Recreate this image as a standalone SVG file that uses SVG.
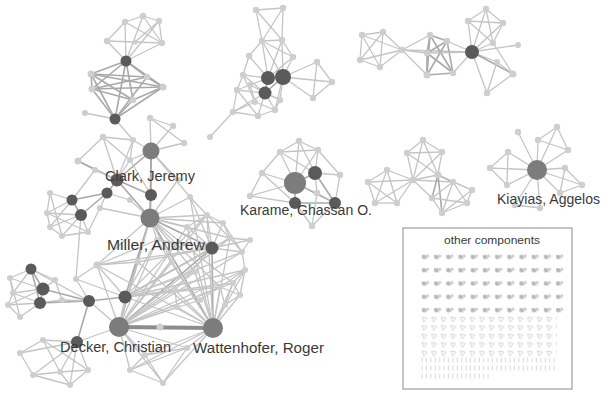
<svg xmlns="http://www.w3.org/2000/svg" width="601" height="393" viewBox="0 0 601 393">
<style>
.e{stroke:#c4c4c4;stroke-width:1.3;fill:none}
.k{stroke:#a9a9a9;stroke-width:1.6;fill:none}
.t{stroke:#8c8c8c;stroke-width:4;fill:none}
.l{fill:#cecece}
.d{fill:#5a5a5a}
.m{fill:#7c7c7c}
.lab{font-family:"Liberation Sans",Arial,sans-serif;font-size:14px;fill:#3a3a3a}
</style>
<defs>
<pattern id="p1" patternUnits="userSpaceOnUse" x="419" y="251" width="12.2" height="13.3">
<line x1="3" y1="4" x2="8" y2="8" stroke="#c9c9c9" stroke-width="1"/>
<circle cx="5" cy="6" r="2.2" fill="#b8b8b8"/><circle cx="8.5" cy="5" r="1.6" fill="#cdcdcd"/>
</pattern>
<pattern id="p2" patternUnits="userSpaceOnUse" x="420" y="315" width="9.6" height="8.5">
<polyline points="2,2 7,3 4,7 2,2" stroke="#d0d0d0" stroke-width="0.9" fill="none"/>
</pattern>
<pattern id="p3" patternUnits="userSpaceOnUse" x="420" y="356" width="4.4" height="8">
<line x1="2" y1="1.5" x2="2" y2="6.5" stroke="#d4d4d4" stroke-width="0.9"/>
</pattern>
</defs>
<rect width="601" height="393" fill="#ffffff"/>
<g id="connectors">
<!-- cluster A -->
<line class="e" x1="125" y1="22" x2="143" y2="16"/><line class="e" x1="143" y1="16" x2="159" y2="21"/><line class="e" x1="159" y1="21" x2="162" y2="43"/><line class="e" x1="125" y1="22" x2="107" y2="41"/><line class="e" x1="107" y1="41" x2="162" y2="43"/><line class="e" x1="143" y1="16" x2="162" y2="43"/><line class="e" x1="159" y1="21" x2="135" y2="42"/><line class="e" x1="125" y1="22" x2="162" y2="43"/>
<line class="e" x1="125" y1="22" x2="126" y2="61"/><line class="e" x1="143" y1="16" x2="126" y2="61"/><line class="e" x1="107" y1="41" x2="126" y2="61"/><line class="e" x1="162" y1="43" x2="126" y2="61"/><line class="e" x1="159" y1="21" x2="126" y2="61"/>
<line class="k" x1="126" y1="61" x2="91" y2="74"/><line class="k" x1="126" y1="61" x2="92" y2="89"/><line class="k" x1="126" y1="61" x2="147" y2="77"/><line class="k" x1="126" y1="61" x2="163" y2="87"/><line class="k" x1="126" y1="61" x2="133" y2="100"/><line class="k" x1="126" y1="61" x2="115" y2="119"/>
<line class="k" x1="115" y1="119" x2="91" y2="74"/><line class="k" x1="115" y1="119" x2="92" y2="89"/><line class="k" x1="115" y1="119" x2="147" y2="77"/><line class="k" x1="115" y1="119" x2="163" y2="87"/><line class="k" x1="115" y1="119" x2="133" y2="100"/>
<line class="k" x1="91" y1="74" x2="92" y2="89"/><line class="k" x1="91" y1="74" x2="147" y2="77"/><line class="k" x1="91" y1="74" x2="163" y2="87"/><line class="k" x1="92" y1="89" x2="163" y2="87"/><line class="k" x1="92" y1="89" x2="147" y2="77"/><line class="k" x1="147" y1="77" x2="163" y2="87"/><line class="k" x1="91" y1="74" x2="133" y2="100"/><line class="k" x1="133" y1="100" x2="163" y2="87"/><line class="k" x1="92" y1="89" x2="133" y2="100"/>
<line class="e" x1="115" y1="119" x2="85" y2="113"/><line class="e" x1="115" y1="119" x2="133" y2="140"/>
<!-- cluster B -->
<line class="e" x1="151" y1="151" x2="150" y2="118"/><line class="e" x1="151" y1="151" x2="173" y2="126"/><line class="e" x1="151" y1="151" x2="184" y2="143"/><line class="e" x1="150" y1="118" x2="173" y2="126"/><line class="e" x1="150" y1="118" x2="184" y2="143"/><line class="e" x1="151" y1="151" x2="133" y2="140"/><line class="e" x1="151" y1="151" x2="130" y2="160"/><line class="e" x1="103" y1="137" x2="133" y2="140"/><line class="e" x1="103" y1="137" x2="130" y2="160"/><line class="e" x1="133" y1="140" x2="130" y2="160"/><line class="e" x1="103" y1="137" x2="117" y2="180"/><line class="e" x1="133" y1="140" x2="117" y2="180"/>
<line class="k" x1="151" y1="151" x2="117" y2="180"/><line class="k" x1="151" y1="151" x2="151" y2="195"/><line class="k" x1="151" y1="151" x2="150" y2="218"/><line class="e" x1="151" y1="151" x2="178" y2="180"/><line class="e" x1="178" y1="180" x2="150" y2="218"/><line class="e" x1="151" y1="151" x2="190" y2="197"/>
<line class="e" x1="78" y1="161" x2="95" y2="170"/><line class="k" x1="78" y1="161" x2="117" y2="180"/><line class="e" x1="95" y1="170" x2="117" y2="180"/><line class="e" x1="78" y1="161" x2="103" y2="137"/><line class="e" x1="130" y1="160" x2="117" y2="180"/>
<line class="k" x1="117" y1="180" x2="107" y2="193"/><line class="k" x1="117" y1="180" x2="151" y2="195"/><line class="k" x1="117" y1="180" x2="150" y2="218"/><line class="k" x1="107" y1="193" x2="72" y2="200"/><line class="k" x1="107" y1="193" x2="81" y2="215"/><line class="k" x1="72" y1="200" x2="81" y2="215"/><line class="e" x1="107" y1="193" x2="130" y2="200"/><line class="e" x1="130" y1="200" x2="150" y2="218"/><line class="e" x1="107" y1="193" x2="100" y2="208"/><line class="e" x1="100" y1="208" x2="150" y2="218"/><line class="k" x1="151" y1="195" x2="150" y2="218"/><line class="e" x1="130" y1="160" x2="151" y2="195"/><line class="e" x1="95" y1="170" x2="72" y2="200"/>
<!-- small left -->
<line class="e" x1="72" y1="200" x2="50" y2="193"/><line class="e" x1="72" y1="200" x2="47" y2="213"/><line class="e" x1="72" y1="200" x2="50" y2="227"/><line class="e" x1="81" y1="215" x2="50" y2="227"/><line class="e" x1="81" y1="215" x2="62" y2="236"/><line class="e" x1="81" y1="215" x2="88" y2="232"/><line class="e" x1="81" y1="215" x2="47" y2="213"/><line class="e" x1="50" y1="193" x2="47" y2="213"/><line class="e" x1="47" y1="213" x2="50" y2="227"/><line class="e" x1="50" y1="227" x2="62" y2="236"/><line class="e" x1="62" y1="236" x2="88" y2="232"/><line class="e" x1="50" y1="193" x2="62" y2="236"/><line class="e" x1="47" y1="213" x2="88" y2="232"/><line class="e" x1="81" y1="215" x2="76" y2="279"/><line class="e" x1="100" y1="208" x2="88" y2="232"/>
<!-- cluster D (lower left) -->
<line class="k" x1="31" y1="269" x2="43" y2="289"/><line class="k" x1="31" y1="269" x2="40" y2="303"/><line class="k" x1="43" y1="289" x2="40" y2="303"/><line class="e" x1="31" y1="269" x2="10" y2="278"/><line class="e" x1="31" y1="269" x2="13" y2="293"/><line class="e" x1="43" y1="289" x2="10" y2="278"/><line class="e" x1="43" y1="289" x2="13" y2="293"/><line class="e" x1="43" y1="289" x2="8" y2="305"/><line class="e" x1="40" y1="303" x2="8" y2="305"/><line class="e" x1="40" y1="303" x2="20" y2="317"/><line class="e" x1="40" y1="303" x2="13" y2="293"/><line class="e" x1="10" y1="278" x2="13" y2="293"/><line class="e" x1="13" y1="293" x2="8" y2="305"/><line class="e" x1="8" y1="305" x2="20" y2="317"/><line class="e" x1="10" y1="278" x2="20" y2="317"/><line class="e" x1="31" y1="269" x2="55" y2="280"/><line class="e" x1="55" y1="280" x2="43" y2="289"/><line class="e" x1="55" y1="280" x2="62" y2="300"/><line class="e" x1="62" y1="300" x2="40" y2="303"/><line class="k" x1="43" y1="289" x2="89" y2="301"/><line class="k" x1="40" y1="303" x2="89" y2="301"/><line class="e" x1="31" y1="269" x2="89" y2="301"/><line class="e" x1="76" y1="279" x2="89" y2="301"/><line class="e" x1="76" y1="279" x2="125" y2="297"/><line class="k" x1="89" y1="301" x2="125" y2="297"/><line class="k" x1="89" y1="301" x2="77" y2="342"/><line class="e" x1="89" y1="301" x2="119" y2="327"/><line class="e" x1="62" y1="300" x2="89" y2="301"/>
<!-- lower-left P -->
<line class="e" x1="77" y1="342" x2="20" y2="353"/><line class="e" x1="77" y1="342" x2="43" y2="340"/><line class="e" x1="77" y1="342" x2="33" y2="375"/><line class="e" x1="77" y1="342" x2="70" y2="385"/><line class="e" x1="77" y1="342" x2="88" y2="370"/><line class="e" x1="77" y1="342" x2="60" y2="372"/><line class="e" x1="20" y1="353" x2="43" y2="340"/><line class="e" x1="20" y1="353" x2="33" y2="375"/><line class="e" x1="43" y1="340" x2="60" y2="372"/><line class="e" x1="33" y1="375" x2="70" y2="385"/><line class="e" x1="60" y1="372" x2="70" y2="385"/><line class="e" x1="60" y1="372" x2="88" y2="370"/><line class="e" x1="70" y1="385" x2="88" y2="370"/><line class="e" x1="33" y1="375" x2="60" y2="372"/><line class="e" x1="43" y1="340" x2="88" y2="370"/><line class="e" x1="77" y1="342" x2="119" y2="327"/>
<!-- M hairball -->
<line class="k" x1="150" y1="218" x2="212" y2="248"/><line class="k" x1="150" y1="218" x2="125" y2="297"/><line class="k" x1="150" y1="218" x2="119" y2="327"/><line class="k" x1="150" y1="218" x2="213" y2="328"/><line class="e" x1="150" y1="218" x2="207" y2="215"/><line class="e" x1="150" y1="218" x2="187" y2="227"/><line class="e" x1="150" y1="218" x2="157" y2="240"/><line class="e" x1="150" y1="218" x2="172" y2="262"/><line class="e" x1="150" y1="218" x2="195" y2="272"/><line class="e" x1="150" y1="218" x2="230" y2="238"/><line class="e" x1="150" y1="218" x2="233" y2="283"/><line class="e" x1="150" y1="218" x2="220" y2="287"/><line class="e" x1="150" y1="218" x2="97" y2="265"/><line class="e" x1="150" y1="218" x2="138" y2="262"/><line class="e" x1="150" y1="218" x2="190" y2="197"/><line class="e" x1="150" y1="218" x2="223" y2="223"/>
<line class="k" x1="212" y1="248" x2="119" y2="327"/><line class="k" x1="212" y1="248" x2="213" y2="328"/><line class="k" x1="212" y1="248" x2="125" y2="297"/><line class="e" x1="212" y1="248" x2="207" y2="215"/><line class="e" x1="212" y1="248" x2="223" y2="223"/><line class="e" x1="212" y1="248" x2="230" y2="238"/><line class="e" x1="212" y1="248" x2="250" y2="240"/><line class="e" x1="212" y1="248" x2="242" y2="252"/><line class="e" x1="212" y1="248" x2="97" y2="265"/><line class="e" x1="212" y1="248" x2="138" y2="262"/><line class="e" x1="212" y1="248" x2="175" y2="290"/><line class="e" x1="212" y1="248" x2="187" y2="227"/><line class="e" x1="212" y1="248" x2="157" y2="240"/><line class="e" x1="212" y1="248" x2="190" y2="197"/>
<line class="e" x1="119" y1="327" x2="125" y2="297"/><line class="e" x1="119" y1="327" x2="97" y2="265"/><line class="e" x1="119" y1="327" x2="207" y2="215"/><line class="e" x1="119" y1="327" x2="230" y2="238"/><line class="e" x1="119" y1="327" x2="242" y2="252"/><line class="e" x1="119" y1="327" x2="245" y2="270"/><line class="e" x1="119" y1="327" x2="233" y2="283"/><line class="e" x1="119" y1="327" x2="220" y2="287"/><line class="e" x1="119" y1="327" x2="187" y2="227"/><line class="e" x1="119" y1="327" x2="157" y2="240"/><line class="e" x1="119" y1="327" x2="172" y2="262"/><line class="e" x1="119" y1="327" x2="195" y2="272"/><line class="e" x1="119" y1="327" x2="138" y2="262"/><line class="e" x1="119" y1="327" x2="175" y2="290"/><line class="e" x1="119" y1="327" x2="200" y2="300"/><line class="e" x1="119" y1="327" x2="163" y2="383"/><line class="e" x1="119" y1="327" x2="130" y2="370"/><line class="e" x1="119" y1="327" x2="177" y2="307"/><line class="e" x1="119" y1="327" x2="145" y2="355"/><line class="e" x1="119" y1="327" x2="187" y2="348"/>
<line class="e" x1="213" y1="328" x2="125" y2="297"/><line class="e" x1="213" y1="328" x2="97" y2="265"/><line class="e" x1="213" y1="328" x2="207" y2="215"/><line class="e" x1="213" y1="328" x2="230" y2="238"/><line class="e" x1="213" y1="328" x2="245" y2="270"/><line class="e" x1="213" y1="328" x2="233" y2="283"/><line class="e" x1="213" y1="328" x2="240" y2="295"/><line class="e" x1="213" y1="328" x2="220" y2="287"/><line class="e" x1="213" y1="328" x2="225" y2="305"/><line class="e" x1="213" y1="328" x2="187" y2="227"/><line class="e" x1="213" y1="328" x2="157" y2="240"/><line class="e" x1="213" y1="328" x2="172" y2="262"/><line class="e" x1="213" y1="328" x2="195" y2="272"/><line class="e" x1="213" y1="328" x2="138" y2="262"/><line class="e" x1="213" y1="328" x2="175" y2="290"/><line class="e" x1="213" y1="328" x2="163" y2="383"/><line class="e" x1="213" y1="328" x2="130" y2="370"/><line class="e" x1="213" y1="328" x2="187" y2="348"/><line class="e" x1="213" y1="328" x2="177" y2="307"/><line class="e" x1="213" y1="328" x2="145" y2="355"/><line class="e" x1="213" y1="328" x2="190" y2="197"/>
<line class="e" x1="125" y1="297" x2="97" y2="265"/><line class="e" x1="125" y1="297" x2="230" y2="238"/><line class="e" x1="125" y1="297" x2="242" y2="252"/><line class="e" x1="125" y1="297" x2="245" y2="270"/><line class="e" x1="125" y1="297" x2="233" y2="283"/><line class="e" x1="125" y1="297" x2="220" y2="287"/><line class="e" x1="125" y1="297" x2="157" y2="240"/><line class="e" x1="125" y1="297" x2="195" y2="272"/><line class="e" x1="125" y1="297" x2="175" y2="290"/><line class="e" x1="125" y1="297" x2="207" y2="215"/>
<line class="e" x1="207" y1="215" x2="223" y2="223"/><line class="e" x1="223" y1="223" x2="230" y2="238"/><line class="e" x1="207" y1="215" x2="230" y2="238"/><line class="e" x1="230" y1="238" x2="250" y2="240"/><line class="e" x1="250" y1="240" x2="242" y2="252"/><line class="e" x1="223" y1="223" x2="242" y2="252"/><line class="e" x1="230" y1="238" x2="242" y2="252"/><line class="e" x1="242" y1="252" x2="245" y2="270"/><line class="e" x1="245" y1="270" x2="233" y2="283"/><line class="e" x1="233" y1="283" x2="240" y2="295"/><line class="e" x1="240" y1="295" x2="220" y2="287"/><line class="e" x1="220" y1="287" x2="225" y2="305"/><line class="e" x1="245" y1="270" x2="240" y2="295"/><line class="e" x1="233" y1="283" x2="225" y2="305"/><line class="e" x1="240" y1="295" x2="225" y2="305"/><line class="e" x1="220" y1="287" x2="245" y2="270"/><line class="e" x1="97" y1="265" x2="157" y2="240"/><line class="e" x1="97" y1="265" x2="138" y2="262"/><line class="e" x1="177" y1="307" x2="175" y2="290"/><line class="e" x1="200" y1="300" x2="220" y2="287"/><line class="e" x1="190" y1="197" x2="207" y2="215"/><line class="e" x1="187" y1="227" x2="207" y2="215"/><line class="e" x1="97" y1="265" x2="76" y2="279"/>
<line class="e" x1="163" y1="383" x2="130" y2="370"/><line class="e" x1="163" y1="383" x2="187" y2="348"/><line class="e" x1="130" y1="370" x2="145" y2="355"/><line class="e" x1="145" y1="355" x2="187" y2="348"/><line class="e" x1="163" y1="383" x2="145" y2="355"/><line class="e" x1="130" y1="370" x2="187" y2="348"/>
<line class="t" x1="119" y1="327" x2="213" y2="328"/>
<!-- cluster T -->
<line class="e" x1="256" y1="10" x2="283" y2="8"/><line class="e" x1="256" y1="10" x2="262" y2="41"/><line class="e" x1="256" y1="10" x2="282" y2="40"/><line class="e" x1="283" y1="8" x2="262" y2="41"/><line class="e" x1="283" y1="8" x2="282" y2="40"/><line class="e" x1="262" y1="41" x2="282" y2="40"/><line class="e" x1="262" y1="41" x2="268" y2="78"/><line class="e" x1="282" y1="40" x2="283" y2="77"/><line class="e" x1="262" y1="41" x2="293" y2="57"/><line class="e" x1="282" y1="40" x2="293" y2="57"/><line class="e" x1="293" y1="57" x2="283" y2="77"/><line class="e" x1="249" y1="56" x2="262" y2="41"/><line class="e" x1="249" y1="56" x2="268" y2="78"/><line class="e" x1="249" y1="56" x2="243" y2="75"/><line class="e" x1="282" y1="40" x2="268" y2="78"/><line class="e" x1="262" y1="41" x2="283" y2="77"/><line class="e" x1="293" y1="57" x2="268" y2="78"/>
<line class="e" x1="283" y1="77" x2="317" y2="62"/><line class="e" x1="283" y1="77" x2="332" y2="82"/><line class="e" x1="283" y1="77" x2="313" y2="98"/><line class="e" x1="317" y1="62" x2="332" y2="82"/><line class="e" x1="332" y1="82" x2="313" y2="98"/><line class="e" x1="317" y1="62" x2="313" y2="98"/>
<line class="k" x1="268" y1="78" x2="283" y2="77"/><line class="k" x1="268" y1="78" x2="265" y2="93"/><line class="k" x1="283" y1="77" x2="265" y2="93"/><line class="e" x1="268" y1="78" x2="243" y2="75"/><line class="e" x1="243" y1="75" x2="237" y2="90"/><line class="e" x1="237" y1="90" x2="233" y2="112"/><line class="e" x1="233" y1="112" x2="258" y2="116"/><line class="e" x1="258" y1="116" x2="275" y2="110"/><line class="e" x1="275" y1="110" x2="280" y2="100"/><line class="e" x1="280" y1="100" x2="283" y2="77"/><line class="e" x1="265" y1="93" x2="237" y2="90"/><line class="e" x1="265" y1="93" x2="233" y2="112"/><line class="e" x1="265" y1="93" x2="258" y2="116"/><line class="e" x1="265" y1="93" x2="275" y2="110"/><line class="e" x1="265" y1="93" x2="280" y2="100"/><line class="e" x1="243" y1="75" x2="265" y2="93"/><line class="e" x1="237" y1="90" x2="250" y2="85"/><line class="e" x1="250" y1="85" x2="268" y2="78"/><line class="e" x1="250" y1="85" x2="255" y2="102"/><line class="e" x1="255" y1="102" x2="233" y2="112"/><line class="e" x1="255" y1="102" x2="275" y2="110"/><line class="e" x1="243" y1="75" x2="255" y2="102"/><line class="e" x1="237" y1="90" x2="258" y2="116"/><line class="e" x1="250" y1="85" x2="280" y2="100"/><line class="e" x1="233" y1="112" x2="210" y2="137"/><line class="e" x1="283" y1="77" x2="275" y2="110"/>
<!-- cluster U -->
<line class="e" x1="362" y1="35" x2="383" y2="32"/><line class="e" x1="362" y1="35" x2="380" y2="67"/><line class="e" x1="362" y1="35" x2="360" y2="60"/><line class="e" x1="383" y1="32" x2="380" y2="67"/><line class="e" x1="383" y1="32" x2="360" y2="60"/><line class="e" x1="380" y1="67" x2="360" y2="60"/><line class="e" x1="383" y1="32" x2="402" y2="50"/><line class="e" x1="380" y1="67" x2="402" y2="50"/><line class="e" x1="362" y1="35" x2="402" y2="50"/><line class="e" x1="360" y1="60" x2="402" y2="50"/>
<line class="e" x1="402" y1="50" x2="430" y2="35"/><line class="e" x1="402" y1="50" x2="427" y2="53"/><line class="e" x1="402" y1="50" x2="427" y2="75"/><line class="e" x1="402" y1="50" x2="472" y2="52"/><line class="k" x1="430" y1="35" x2="447" y2="41"/><line class="k" x1="430" y1="35" x2="427" y2="53"/><line class="k" x1="430" y1="35" x2="427" y2="75"/><line class="k" x1="430" y1="35" x2="453" y2="73"/><line class="k" x1="447" y1="41" x2="427" y2="53"/><line class="k" x1="447" y1="41" x2="427" y2="75"/><line class="k" x1="447" y1="41" x2="453" y2="73"/><line class="k" x1="427" y1="53" x2="427" y2="75"/><line class="k" x1="427" y1="53" x2="453" y2="73"/><line class="k" x1="427" y1="75" x2="453" y2="73"/><line class="e" x1="447" y1="41" x2="472" y2="52"/><line class="e" x1="453" y1="73" x2="472" y2="52"/><line class="e" x1="427" y1="53" x2="472" y2="52"/>
<line class="e" x1="472" y1="52" x2="468" y2="21"/><line class="e" x1="472" y1="52" x2="486" y2="9"/><line class="e" x1="472" y1="52" x2="503" y2="23"/><line class="e" x1="472" y1="52" x2="493" y2="43"/><line class="e" x1="472" y1="52" x2="518" y2="45"/><line class="e" x1="472" y1="52" x2="497" y2="62"/><line class="k" x1="472" y1="52" x2="513" y2="74"/><line class="e" x1="472" y1="52" x2="487" y2="93"/><line class="e" x1="468" y1="21" x2="486" y2="9"/><line class="e" x1="486" y1="9" x2="503" y2="23"/><line class="e" x1="468" y1="21" x2="503" y2="23"/><line class="e" x1="468" y1="21" x2="493" y2="43"/><line class="e" x1="503" y1="23" x2="493" y2="43"/><line class="e" x1="486" y1="9" x2="493" y2="43"/><line class="e" x1="497" y1="62" x2="513" y2="74"/><line class="e" x1="513" y1="74" x2="487" y2="93"/><line class="e" x1="497" y1="62" x2="487" y2="93"/><line class="e" x1="493" y1="43" x2="513" y2="74"/>
<!-- cluster E -->
<line class="k" x1="295" y1="183" x2="315" y2="173"/><line class="k" x1="295" y1="183" x2="295" y2="203"/><line class="k" x1="295" y1="183" x2="335" y2="203"/><line class="e" x1="295" y1="183" x2="280" y2="152"/><line class="e" x1="295" y1="183" x2="299" y2="141"/><line class="e" x1="295" y1="183" x2="318" y2="150"/><line class="e" x1="295" y1="183" x2="262" y2="173"/><line class="e" x1="295" y1="183" x2="250" y2="196"/><line class="e" x1="295" y1="183" x2="317" y2="193"/><line class="e" x1="315" y1="173" x2="299" y2="141"/><line class="e" x1="315" y1="173" x2="318" y2="150"/><line class="e" x1="315" y1="173" x2="340" y2="175"/><line class="k" x1="315" y1="173" x2="335" y2="203"/><line class="e" x1="315" y1="173" x2="317" y2="193"/><line class="e" x1="315" y1="173" x2="280" y2="152"/><line class="e" x1="280" y1="152" x2="299" y2="141"/><line class="e" x1="299" y1="141" x2="318" y2="150"/><line class="e" x1="280" y1="152" x2="318" y2="150"/><line class="e" x1="262" y1="173" x2="250" y2="196"/><line class="e" x1="262" y1="173" x2="280" y2="152"/><line class="k" x1="295" y1="203" x2="335" y2="203"/><line class="e" x1="295" y1="203" x2="312" y2="226"/><line class="e" x1="335" y1="203" x2="312" y2="226"/><line class="e" x1="317" y1="193" x2="312" y2="226"/><line class="e" x1="317" y1="193" x2="335" y2="203"/><line class="e" x1="340" y1="175" x2="335" y2="203"/><line class="e" x1="318" y1="150" x2="340" y2="175"/><line class="e" x1="250" y1="196" x2="295" y2="203"/><line class="e" x1="262" y1="173" x2="295" y2="203"/>
<!-- cluster F -->
<line class="e" x1="423" y1="140" x2="407" y2="153"/><line class="e" x1="423" y1="140" x2="442" y2="152"/><line class="e" x1="423" y1="140" x2="413" y2="180"/><line class="e" x1="423" y1="140" x2="438" y2="175"/><line class="e" x1="407" y1="153" x2="442" y2="152"/><line class="e" x1="407" y1="153" x2="413" y2="180"/><line class="e" x1="407" y1="153" x2="438" y2="175"/><line class="e" x1="442" y1="152" x2="413" y2="180"/><line class="e" x1="442" y1="152" x2="438" y2="175"/><line class="e" x1="413" y1="180" x2="438" y2="175"/>
<line class="e" x1="413" y1="180" x2="387" y2="170"/><line class="e" x1="413" y1="180" x2="368" y2="182"/><line class="e" x1="413" y1="180" x2="375" y2="203"/><line class="e" x1="413" y1="180" x2="397" y2="203"/><line class="e" x1="387" y1="170" x2="368" y2="182"/><line class="e" x1="387" y1="170" x2="375" y2="203"/><line class="e" x1="387" y1="170" x2="397" y2="203"/><line class="e" x1="368" y1="182" x2="375" y2="203"/><line class="e" x1="368" y1="182" x2="397" y2="203"/><line class="e" x1="375" y1="203" x2="397" y2="203"/>
<line class="e" x1="413" y1="180" x2="432" y2="198"/><line class="e" x1="413" y1="180" x2="453" y2="182"/><line class="k" x1="438" y1="175" x2="453" y2="182"/><line class="k" x1="438" y1="175" x2="432" y2="198"/><line class="k" x1="438" y1="175" x2="442" y2="213"/><line class="e" x1="438" y1="175" x2="472" y2="190"/><line class="e" x1="453" y1="182" x2="472" y2="190"/><line class="e" x1="453" y1="182" x2="467" y2="203"/><line class="e" x1="453" y1="182" x2="442" y2="213"/><line class="e" x1="472" y1="190" x2="467" y2="203"/><line class="e" x1="467" y1="203" x2="442" y2="213"/><line class="e" x1="432" y1="198" x2="442" y2="213"/><line class="e" x1="432" y1="198" x2="467" y2="203"/><line class="e" x1="472" y1="190" x2="442" y2="213"/><line class="e" x1="453" y1="182" x2="432" y2="198"/>
<!-- cluster G -->
<line class="e" x1="537" y1="170" x2="518" y2="132"/><line class="e" x1="537" y1="170" x2="538" y2="140"/><line class="e" x1="537" y1="170" x2="557" y2="127"/><line class="e" x1="537" y1="170" x2="568" y2="150"/><line class="e" x1="537" y1="170" x2="508" y2="152"/><line class="e" x1="537" y1="170" x2="490" y2="168"/><line class="e" x1="537" y1="170" x2="507" y2="185"/><line class="e" x1="537" y1="170" x2="565" y2="168"/><line class="e" x1="537" y1="170" x2="582" y2="185"/><line class="e" x1="537" y1="170" x2="515" y2="205"/><line class="e" x1="537" y1="170" x2="540" y2="208"/><line class="e" x1="537" y1="170" x2="560" y2="193"/><line class="e" x1="538" y1="140" x2="557" y2="127"/><line class="e" x1="557" y1="127" x2="568" y2="150"/><line class="e" x1="538" y1="140" x2="568" y2="150"/><line class="e" x1="508" y1="152" x2="490" y2="168"/><line class="e" x1="490" y1="168" x2="507" y2="185"/><line class="e" x1="508" y1="152" x2="507" y2="185"/><line class="e" x1="565" y1="168" x2="582" y2="185"/><line class="e" x1="582" y1="185" x2="560" y2="193"/><line class="e" x1="565" y1="168" x2="560" y2="193"/><line class="e" x1="515" y1="205" x2="540" y2="208"/>
</g>
<g id="nodes">
<g id="a1"><circle class="l" cx="125" cy="22" r="3.2"/></g><g id="a2"><circle class="l" cx="143" cy="16" r="3.2"/></g><g id="a3"><circle class="l" cx="159" cy="21" r="3.2"/></g><g id="a4"><circle class="l" cx="162" cy="43" r="3.2"/></g><g id="a5"><circle class="l" cx="107" cy="41" r="3.2"/></g><g id="a5b"><circle class="l" cx="135" cy="42" r="2.6"/></g><g id="a6"><circle class="d" cx="126" cy="61" r="5.5"/></g><g id="a7"><circle class="l" cx="91" cy="74" r="3.5"/></g><g id="a8"><circle class="l" cx="92" cy="89" r="3.5"/></g><g id="a9"><circle class="l" cx="147" cy="77" r="3.2"/></g><g id="a10"><circle class="l" cx="163" cy="87" r="3.5"/></g><g id="a11"><circle class="l" cx="133" cy="100" r="3.2"/></g><g id="a12"><circle class="d" cx="115" cy="119" r="5.5"/></g><g id="a13"><circle class="l" cx="85" cy="113" r="3"/></g>
<g id="b2"><circle class="l" cx="150" cy="118" r="3.2"/></g><g id="b3"><circle class="l" cx="173" cy="126" r="3.2"/></g><g id="b4"><circle class="l" cx="184" cy="143" r="3.2"/></g><g id="b5"><circle class="l" cx="103" cy="137" r="3.2"/></g><g id="b6"><circle class="l" cx="133" cy="140" r="3"/></g><g id="b11"><circle class="l" cx="78" cy="161" r="3.5"/></g><g id="b14"><circle class="l" cx="130" cy="160" r="3"/></g><g id="b15"><circle class="l" cx="95" cy="170" r="3"/></g><g id="b16"><circle class="l" cx="130" cy="200" r="3"/></g><g id="b17"><circle class="l" cx="178" cy="180" r="3"/></g><g id="b18"><circle class="l" cx="100" cy="208" r="3"/></g>
<g id="b1"><circle class="m" cx="151" cy="151" r="8.5"/></g>
<g id="b8"><circle class="d" cx="107" cy="193" r="5.5"/></g><g id="b9"><circle class="d" cx="72" cy="200" r="5.5"/></g><g id="b10"><circle class="d" cx="81" cy="215" r="6"/></g><g id="b12"><circle class="d" cx="151" cy="195" r="6"/></g>
<g id="c1"><circle class="l" cx="50" cy="193" r="3"/></g><g id="c2"><circle class="l" cx="47" cy="213" r="3"/></g><g id="c3"><circle class="l" cx="50" cy="227" r="3"/></g><g id="c4"><circle class="l" cx="62" cy="236" r="3"/></g><g id="c5"><circle class="l" cx="88" cy="232" r="3"/></g>
<g id="d4"><circle class="l" cx="10" cy="278" r="3"/></g><g id="d5"><circle class="l" cx="13" cy="293" r="3"/></g><g id="d6"><circle class="l" cx="8" cy="305" r="3"/></g><g id="d7"><circle class="l" cx="20" cy="317" r="3"/></g><g id="d8"><circle class="l" cx="55" cy="280" r="3"/></g><g id="d9"><circle class="l" cx="62" cy="300" r="3"/></g><g id="d11"><circle class="l" cx="76" cy="279" r="3"/></g>
<g id="d1"><circle class="d" cx="31" cy="269" r="5.5"/></g><g id="d2"><circle class="d" cx="43" cy="289" r="6.5"/></g><g id="d3"><circle class="d" cx="40" cy="303" r="6"/></g><g id="d10"><circle class="d" cx="89" cy="301" r="6"/></g>
<g id="p1"><circle class="l" cx="20" cy="353" r="3"/></g><g id="p2"><circle class="l" cx="43" cy="340" r="3"/></g><g id="p3"><circle class="l" cx="33" cy="375" r="3"/></g><g id="p5"><circle class="l" cx="70" cy="385" r="3"/></g><g id="p6"><circle class="l" cx="88" cy="370" r="3"/></g><g id="p7"><circle class="l" cx="60" cy="372" r="3"/></g>
<g id="m5"><circle class="l" cx="160" cy="327" r="3.5"/></g><g id="m6"><circle class="l" cx="97" cy="265" r="3.5"/></g><g id="m8"><circle class="l" cx="207" cy="215" r="3"/></g><g id="m9"><circle class="l" cx="223" cy="223" r="3"/></g><g id="m10"><circle class="l" cx="230" cy="238" r="3"/></g><g id="m11"><circle class="l" cx="250" cy="240" r="3"/></g><g id="m12"><circle class="l" cx="242" cy="252" r="3"/></g><g id="m13"><circle class="l" cx="245" cy="270" r="3"/></g><g id="m14"><circle class="l" cx="233" cy="283" r="3"/></g><g id="m15"><circle class="l" cx="240" cy="295" r="3"/></g><g id="m16"><circle class="l" cx="220" cy="287" r="3"/></g><g id="m17"><circle class="l" cx="225" cy="305" r="3"/></g><g id="m18"><circle class="l" cx="177" cy="307" r="3"/></g><g id="m19"><circle class="l" cx="187" cy="227" r="3"/></g><g id="m20"><circle class="l" cx="157" cy="240" r="3"/></g><g id="m21"><circle class="l" cx="172" cy="262" r="3"/></g><g id="m22"><circle class="l" cx="195" cy="272" r="3"/></g><g id="m23"><circle class="l" cx="138" cy="262" r="3"/></g><g id="m24"><circle class="l" cx="175" cy="290" r="3"/></g><g id="m25"><circle class="l" cx="200" cy="300" r="3"/></g><g id="m26"><circle class="l" cx="163" cy="383" r="3"/></g><g id="m27"><circle class="l" cx="130" cy="370" r="3"/></g><g id="m28"><circle class="l" cx="187" cy="348" r="3"/></g><g id="m29"><circle class="l" cx="145" cy="355" r="3"/></g><g id="m30"><circle class="l" cx="190" cy="197" r="3"/></g>
<g id="m3"><circle class="d" cx="125" cy="297" r="6.5"/></g><g id="m7"><circle class="d" cx="77" cy="342" r="6"/></g>
<g id="t1"><circle class="l" cx="256" cy="10" r="3.2"/></g><g id="t2"><circle class="l" cx="283" cy="8" r="3.2"/></g><g id="t3"><circle class="l" cx="262" cy="41" r="3.2"/></g><g id="t4"><circle class="l" cx="282" cy="40" r="3.2"/></g><g id="t5"><circle class="l" cx="293" cy="57" r="3.2"/></g><g id="t6"><circle class="l" cx="249" cy="56" r="3.2"/></g><g id="t7"><circle class="l" cx="243" cy="75" r="3.2"/></g><g id="t8"><circle class="l" cx="237" cy="90" r="3.2"/></g><g id="t9"><circle class="l" cx="233" cy="112" r="3.2"/></g><g id="t10"><circle class="l" cx="258" cy="116" r="3.2"/></g><g id="t11"><circle class="l" cx="275" cy="110" r="3.2"/></g><g id="t12"><circle class="l" cx="280" cy="100" r="3.2"/></g><g id="t13"><circle class="l" cx="317" cy="62" r="3.2"/></g><g id="t14"><circle class="l" cx="332" cy="82" r="3.2"/></g><g id="t15"><circle class="l" cx="313" cy="98" r="3.2"/></g><g id="t16"><circle class="l" cx="210" cy="137" r="3"/></g><g id="t17"><circle class="l" cx="250" cy="85" r="3"/></g><g id="t18"><circle class="l" cx="255" cy="102" r="3"/></g>
<g id="T1"><circle class="d" cx="268" cy="78" r="7"/></g><g id="T2"><circle class="d" cx="283" cy="77" r="8"/></g><g id="T3"><circle class="d" cx="265" cy="93" r="6.5"/></g>
<g id="u1"><circle class="l" cx="362" cy="35" r="3.2"/></g><g id="u2"><circle class="l" cx="383" cy="32" r="3.2"/></g><g id="u3"><circle class="l" cx="380" cy="67" r="3.2"/></g><g id="u4"><circle class="l" cx="360" cy="60" r="3.2"/></g><g id="u5"><circle class="l" cx="402" cy="50" r="3.2"/></g><g id="u6"><circle class="l" cx="430" cy="35" r="3.2"/></g><g id="u7"><circle class="l" cx="447" cy="41" r="3.2"/></g><g id="u8"><circle class="l" cx="427" cy="53" r="3.2"/></g><g id="u9"><circle class="l" cx="427" cy="75" r="3.5"/></g><g id="u10"><circle class="l" cx="453" cy="73" r="3.2"/></g><g id="u11"><circle class="l" cx="468" cy="21" r="3.2"/></g><g id="u12"><circle class="l" cx="486" cy="9" r="3.2"/></g><g id="u13"><circle class="l" cx="503" cy="23" r="3.2"/></g><g id="u14"><circle class="l" cx="493" cy="43" r="3.2"/></g><g id="u15"><circle class="l" cx="518" cy="45" r="3"/></g><g id="u16"><circle class="l" cx="497" cy="62" r="3"/></g><g id="u17"><circle class="l" cx="513" cy="74" r="3.5"/></g><g id="u18"><circle class="l" cx="487" cy="93" r="3.2"/></g>
<g id="U"><circle class="d" cx="472" cy="52" r="7"/></g>
<g id="e4"><circle class="l" cx="280" cy="152" r="3.2"/></g><g id="e5"><circle class="l" cx="299" cy="141" r="3.2"/></g><g id="e6"><circle class="l" cx="318" cy="150" r="3.2"/></g><g id="e7"><circle class="l" cx="262" cy="173" r="3.2"/></g><g id="e8"><circle class="l" cx="250" cy="196" r="3.2"/></g><g id="e9"><circle class="l" cx="340" cy="175" r="3.2"/></g><g id="e10"><circle class="l" cx="312" cy="226" r="3.2"/></g><g id="e11"><circle class="l" cx="317" cy="193" r="3.2"/></g>
<g id="e1"><circle class="d" cx="315" cy="173" r="7"/></g><g id="e2"><circle class="d" cx="295" cy="203" r="6"/></g><g id="e3"><circle class="d" cx="335" cy="203" r="6"/></g>
<g id="f1"><circle class="l" cx="423" cy="140" r="3.2"/></g><g id="f2"><circle class="l" cx="407" cy="153" r="3.2"/></g><g id="f3"><circle class="l" cx="442" cy="152" r="3.2"/></g><g id="f4"><circle class="l" cx="413" cy="180" r="3.2"/></g><g id="f5"><circle class="l" cx="438" cy="175" r="3.5"/></g><g id="f6"><circle class="l" cx="387" cy="170" r="3.2"/></g><g id="f7"><circle class="l" cx="368" cy="182" r="3.2"/></g><g id="f8"><circle class="l" cx="375" cy="203" r="3.2"/></g><g id="f9"><circle class="l" cx="397" cy="203" r="3.2"/></g><g id="f10"><circle class="l" cx="453" cy="182" r="3.2"/></g><g id="f11"><circle class="l" cx="472" cy="190" r="3.2"/></g><g id="f12"><circle class="l" cx="467" cy="203" r="3.2"/></g><g id="f13"><circle class="l" cx="442" cy="213" r="3.2"/></g><g id="f14"><circle class="l" cx="432" cy="198" r="3.2"/></g>
<g id="g1"><circle class="l" cx="518" cy="132" r="3.2"/></g><g id="g2"><circle class="l" cx="538" cy="140" r="3.2"/></g><g id="g3"><circle class="l" cx="557" cy="127" r="3.2"/></g><g id="g4"><circle class="l" cx="568" cy="150" r="3.2"/></g><g id="g5"><circle class="l" cx="508" cy="152" r="3.2"/></g><g id="g6"><circle class="l" cx="490" cy="168" r="3.2"/></g><g id="g7"><circle class="l" cx="507" cy="185" r="3.2"/></g><g id="g8"><circle class="l" cx="565" cy="168" r="3.2"/></g><g id="g9"><circle class="l" cx="582" cy="185" r="3.2"/></g><g id="g10"><circle class="l" cx="515" cy="205" r="3.2"/></g><g id="g11"><circle class="l" cx="540" cy="208" r="3.2"/></g><g id="g12"><circle class="l" cx="560" cy="193" r="3.2"/></g>
<g id="clark"><circle class="d" cx="117" cy="180" r="6.5"/><text class="lab" x="105" y="181" textLength="90" lengthAdjust="spacingAndGlyphs">Clark, Jeremy</text></g>
<g id="miller"><circle class="m" cx="150" cy="218" r="9.5"/><circle class="d" cx="212" cy="248" r="6.5"/><text class="lab" x="107" y="250" textLength="98" lengthAdjust="spacingAndGlyphs">Miller, Andrew</text></g>
<g id="karame"><circle class="m" cx="295" cy="183" r="11"/><text class="lab" x="240" y="215" textLength="132" lengthAdjust="spacingAndGlyphs">Karame, Ghassan O.</text></g>
<g id="kiayias"><circle class="m" cx="537" cy="170" r="10"/><text class="lab" x="497" y="204" textLength="103" lengthAdjust="spacingAndGlyphs">Kiayias, Aggelos</text></g>
<g id="decker"><circle class="m" cx="119" cy="327" r="10"/><text class="lab" x="60" y="352" textLength="111" lengthAdjust="spacingAndGlyphs">Decker, Christian</text></g>
<g id="wattenhofer"><circle class="m" cx="213" cy="328" r="10"/><text class="lab" x="193" y="353" textLength="131" lengthAdjust="spacingAndGlyphs">Wattenhofer, Roger</text></g>
</g>
<g id="other-components">
<rect x="403" y="228" width="169" height="161" fill="#ffffff" stroke="#8a8a8a" stroke-width="1"/>
<text x="492" y="244" text-anchor="middle" font-family="'Liberation Sans',Arial,sans-serif" font-size="10" fill="#3a3a3a" textLength="96" lengthAdjust="spacingAndGlyphs">other components</text>
<rect x="419" y="251" width="147" height="66" fill="url(#p1)"/>
<rect x="420" y="315" width="137" height="42" fill="url(#p2)"/>
<rect x="420" y="356" width="136" height="16" fill="url(#p3)"/>
<rect x="420" y="372" width="70" height="8" fill="url(#p3)"/>
</g>
</svg>
